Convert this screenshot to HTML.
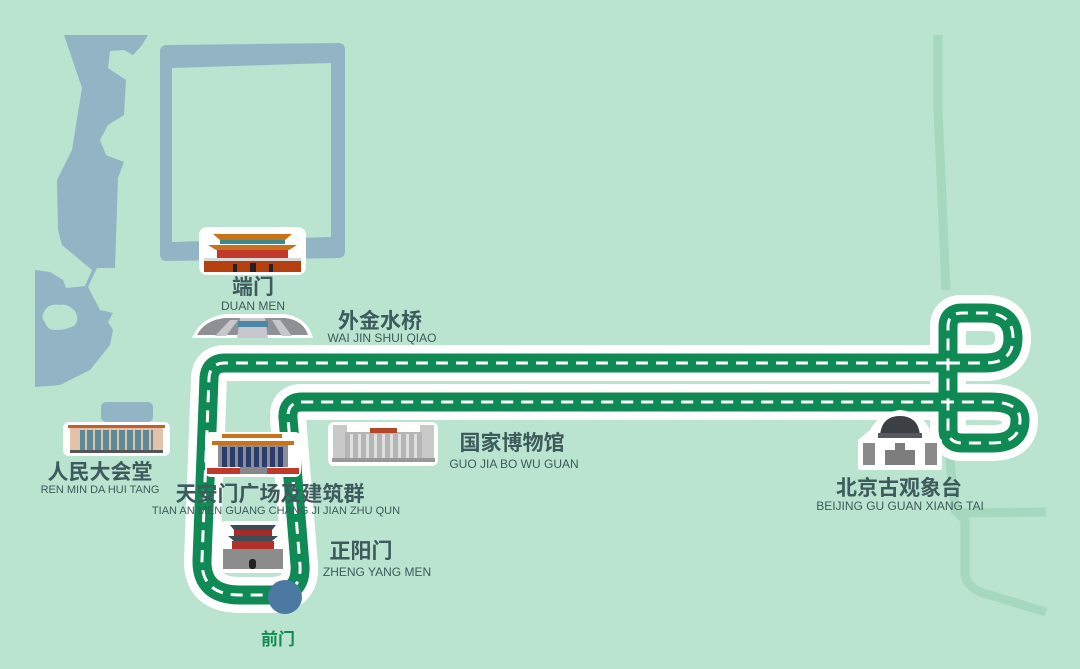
<!DOCTYPE html>
<html><head><meta charset="utf-8"><style>
html,body{margin:0;padding:0;background:#bae3d0;}
svg{display:block}
.cn{font-family:"Liberation Sans","Noto Sans CJK SC",sans-serif;font-weight:bold;fill:#3d5a5c}
.en{font-family:"Liberation Sans","Noto Sans CJK SC",sans-serif;fill:#3d5a5c}
</style></head><body>
<svg width="1080" height="669" viewBox="0 0 1080 669" xmlns="http://www.w3.org/2000/svg">
<rect width="1080" height="669" fill="#bae3d0"/>
<!-- faint road right -->
<g fill="none" stroke="#a6d7bf" stroke-width="9" stroke-linejoin="round">
<path d="M938 35 L938 110 L946 290"/>
<path d="M948 440 L955 510 L965 520 L965 575 Q968 590 990 595 L1046 612"/>
<path d="M960 513 L1046 512"/>
</g>
<!-- water -->
<g fill="#93b4c4">
<path fill-rule="evenodd" d="M64 35 L148 35 L142 45 L133 55 L124 50 L110 51 L108 68 L126 80 L124 115 L108 125 L100 140 L106 155 L124 162 L118 178 L115 268 L97 268 L88 287 L100 310 L113 313 L108 322 L113 330 L110 345 L90 370 L60 385 L35 387 L35 270 L50 272 L63 280 L66 288 L85 286 L92 270 L62 245 L58 230 L57 180 L72 150 L82 88 Z M45 310 Q40 318 45 322 Q47 330 55 330 Q68 330 75 325 Q80 318 74 310 Q66 303 60 305 Q50 303 45 310 Z"/>
<rect x="101" y="402" width="52" height="20" rx="5"/>
<path fill-rule="evenodd" d="M160 52 Q160 45 167 45 L338 43 Q345 43 345 50 L345 251 Q345 258 338 258 L167 261 Q160 261 160 254 Z M172 68 L172 242 L331 237 L331 63 Z"/>
</g>
<!-- route -->
<g fill="none" stroke-linejoin="round" stroke-linecap="round">
<path id="r1" d="M948 363 L225 363 Q210 363 209 378 L202 560 Q201 595 240 595 L270 595 Q302 595 300 565 L288 418 Q287 402 302 402 L948 402"/>
<path id="r2" d="M948 363 L985 363 Q1013 363 1013 338 Q1013 313 985 313 L962 313 Q948 313 948 327 L948 429 Q948 443 962 443 L992 443 Q1020 443 1020 420 Q1020 402 990 402 L948 402"/>
</g>
<use href="#r1" stroke="#fff" stroke-width="36" fill="none"/>
<use href="#r2" stroke="#fff" stroke-width="36" fill="none"/>
<use href="#r1" stroke="#0f8a55" stroke-width="19" fill="none"/>
<use href="#r2" stroke="#0f8a55" stroke-width="19" fill="none"/>
<use href="#r1" stroke="#fff" stroke-width="3" stroke-dasharray="12 8" fill="none"/>
<use href="#r2" stroke="#fff" stroke-width="3" stroke-dasharray="12 8" fill="none"/>
<circle cx="285" cy="597" r="17" fill="#4b79a1"/>
<!-- 端门 icon -->
<g>
<rect x="199" y="227" width="107" height="48" rx="8" fill="#fff"/>
<path d="M213 234 L292 234 L285 240 L220 240 Z" fill="#c8721a"/>
<rect x="220" y="240" width="65" height="4" fill="#3a8a8a"/>
<path d="M208 245 L297 245 L289 250 L216 250 Z" fill="#c8721a"/>
<rect x="217" y="250" width="71" height="8" fill="#c0392b"/>
<rect x="204" y="258" width="97" height="4" fill="#d9d9d9"/>
<rect x="204" y="261" width="97" height="11" fill="#b5400f"/>
<rect x="233" y="264" width="4" height="8" fill="#222"/><rect x="250" y="263" width="6" height="9" fill="#222"/><rect x="269" y="264" width="4" height="8" fill="#222"/>
</g>
<!-- bridge -->
<g>
<path d="M192 338 Q200 318 225 314 L285 314 Q308 318 313 338 Z" fill="#fff"/>
<path d="M197 335 Q205 320 225 318 L285 318 Q303 320 308 335 Z" fill="#8f8f96"/>
<path d="M240 318 L265 318 L268 338 L237 338 Z" fill="#c6c6cc"/>
<path d="M230 320 L238 320 L226 336 L215 336 Z" fill="#c6c6cc"/>
<path d="M272 320 L280 320 L292 336 L282 336 Z" fill="#c6c6cc"/>
<rect x="238" y="321" width="30" height="6" fill="#4e86a8"/>
</g>
<!-- 人民大会堂 -->
<g>
<rect x="63" y="422" width="107" height="34" rx="6" fill="#fff"/>
<rect x="68" y="425" width="97" height="3" fill="#c0612a"/>
<rect x="70" y="428" width="93" height="24" fill="#e4c2aa"/>
<rect x="80" y="430" width="73" height="20" fill="#5d8a98"/>
<g fill="#e4c2aa"><rect x="85" y="430" width="2" height="20"/><rect x="93" y="430" width="2" height="20"/><rect x="101" y="430" width="2" height="20"/><rect x="109" y="430" width="2" height="20"/><rect x="117" y="430" width="2" height="20"/><rect x="125" y="430" width="2" height="20"/><rect x="133" y="430" width="2" height="20"/><rect x="141" y="430" width="2" height="20"/><rect x="149" y="430" width="2" height="20"/></g>
<rect x="70" y="450" width="93" height="3" fill="#555"/>
</g>
<!-- mausoleum -->
<g>
<rect x="205" y="432" width="96" height="45" rx="6" fill="#fff"/>
<rect x="222" y="434" width="60" height="4" fill="#c8721a"/>
<rect x="212" y="441" width="82" height="4" fill="#c8721a"/>
<rect x="218" y="445" width="70" height="22" fill="#8b8d99"/>
<g fill="#2b3b6a"><rect x="222" y="447" width="5" height="20"/><rect x="230" y="447" width="5" height="20"/><rect x="238" y="447" width="5" height="20"/><rect x="246" y="447" width="5" height="20"/><rect x="254" y="447" width="5" height="20"/><rect x="262" y="447" width="5" height="20"/><rect x="270" y="447" width="5" height="20"/><rect x="278" y="447" width="5" height="20"/></g>
<rect x="207" y="468" width="92" height="6" fill="#c0392b"/>
<rect x="240" y="467" width="27" height="7" fill="#888"/>
</g>
<!-- 国家博物馆 -->
<g>
<rect x="328" y="422" width="110" height="44" rx="6" fill="#fff"/>
<rect x="333" y="425" width="14" height="36" fill="#c9c9c9"/>
<rect x="420" y="425" width="14" height="36" fill="#c9c9c9"/>
<rect x="345" y="432" width="77" height="27" fill="#b5b5b5"/>
<rect x="370" y="428" width="27" height="5" fill="#b3462a"/>
<g fill="#e0e0e0"><rect x="350" y="434" width="3" height="24"/><rect x="358" y="434" width="3" height="24"/><rect x="366" y="434" width="3" height="24"/><rect x="374" y="434" width="3" height="24"/><rect x="382" y="434" width="3" height="24"/><rect x="390" y="434" width="3" height="24"/><rect x="398" y="434" width="3" height="24"/><rect x="406" y="434" width="3" height="24"/><rect x="414" y="434" width="3" height="24"/></g>
<rect x="332" y="458" width="103" height="4" fill="#999"/>
</g>
<!-- 正阳门 -->
<g>
<rect x="220" y="521" width="66" height="52" rx="5" fill="#fff"/>
<path d="M230 525 L276 525 L272 530 L234 530 Z" fill="#3b4e55"/>
<rect x="234" y="530" width="38" height="6" fill="#a52a2a"/>
<path d="M228 536 L278 536 L272 541 L234 541 Z" fill="#3b4e55"/>
<rect x="232" y="541" width="42" height="8" fill="#b2302a"/>
<rect x="223" y="549" width="60" height="20" fill="#8c8c8c"/>
<rect x="249" y="559" width="7" height="10" rx="3" fill="#222"/>
</g>
<!-- observatory -->
<g>
<path d="M858 470 L858 440 L870 430 Q880 412 900 410 Q922 412 930 430 L942 440 L942 470 Z" fill="#fff"/>
<rect x="863" y="443" width="12" height="22" fill="#8a8a8a"/>
<rect x="925" y="443" width="12" height="22" fill="#8a8a8a"/>
<path d="M880 435 Q882 416 900 416 Q918 416 920 435 Z" fill="#3c3f43"/>
<rect x="878" y="433" width="44" height="5" fill="#55595d"/>
<path d="M885 465 L885 450 L895 450 L895 443 L905 443 L905 450 L915 450 L915 465 Z" fill="#7d7d7d"/>
</g>
<!-- labels -->
<text class="cn" x="253" y="294" font-size="21" text-anchor="middle">端门</text>
<text class="en" x="253" y="310" font-size="12" text-anchor="middle">DUAN MEN</text>
<text class="cn" x="380" y="328" font-size="21" text-anchor="middle">外金水桥</text>
<text class="en" x="382" y="342" font-size="12" text-anchor="middle">WAI JIN SHUI QIAO</text>
<text class="cn" x="100" y="479" font-size="21" text-anchor="middle">人民大会堂</text>
<text class="en" x="100" y="493" font-size="11" text-anchor="middle">REN MIN DA HUI TANG</text>
<text class="cn" x="270" y="501" font-size="21" text-anchor="middle">天安门广场及建筑群</text>
<text class="en" x="276" y="514" font-size="11" text-anchor="middle">TIAN AN MEN GUANG CHANG JI JIAN ZHU QUN</text>
<text class="cn" x="512" y="450" font-size="21" text-anchor="middle">国家博物馆</text>
<text class="en" x="514" y="468" font-size="12" text-anchor="middle">GUO JIA BO WU GUAN</text>
<text class="cn" x="361" y="558" font-size="21" text-anchor="middle">正阳门</text>
<text class="en" x="377" y="576" font-size="12" text-anchor="middle">ZHENG YANG MEN</text>
<text class="cn" x="899" y="495" font-size="21" text-anchor="middle">北京古观象台</text>
<text class="en" x="900" y="510" font-size="12" text-anchor="middle">BEIJING GU GUAN XIANG TAI</text>
<text class="cn" x="278" y="645" font-size="17" text-anchor="middle" style="fill:#138a50">前门</text>
</svg>
</body></html>
